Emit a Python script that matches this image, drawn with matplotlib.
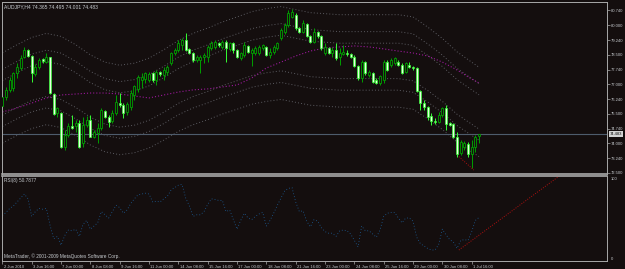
import numpy as np
import matplotlib
matplotlib.use('Agg')
from matplotlib import pyplot as plt
import matplotlib.transforms as mtransforms

# AUDJPY H4 candles, one per bar (bar 0 = 2 Jun 2010 08:00)
opens = [75.89, 76.35, 76.71, 76.81, 77.57, 77.82, 78.38, 78.73, 78.43, 77.52,
         77.87, 78.28, 78.12, 78.38, 76.50, 75.54, 75.54, 73.81, 74.42, 74.88,
         74.88, 75.03, 74.01, 74.93, 75.18, 74.32, 74.52, 74.77, 75.64, 75.33,
         75.13, 75.54, 76.04, 75.94, 75.59, 75.84, 76.45, 76.76, 77.21, 77.26,
         77.21, 77.57, 77.21, 77.62, 77.47, 77.62, 78.07, 78.58, 78.73, 78.99,
         79.24, 78.76, 78.58, 78.23, 78.23, 78.38, 78.38, 78.84, 78.89, 79.09,
         78.89, 79.14, 78.79, 79.09, 78.73, 78.33, 78.48, 78.94, 78.58, 78.58,
         78.58, 78.84, 78.89, 78.48, 78.63, 78.84, 79.34, 79.65, 80.00, 80.41,
         80.51, 79.85, 79.65, 80.06, 79.45, 79.14, 79.65, 79.45, 78.58, 78.84,
         78.58, 78.73, 78.38, 78.53, 78.58, 78.53, 78.38, 77.92, 77.31, 78.12,
         77.47, 77.57, 77.21, 77.06, 77.21, 78.12, 77.97, 78.07, 78.12, 77.97,
         77.62, 77.97, 77.87, 77.82, 76.65, 76.04, 75.84, 75.39, 75.13, 75.08,
         75.44, 75.79, 75.03, 74.98, 74.32, 73.51, 73.81, 73.96, 73.46, 73.81,
         74.365]
highs = [76.71, 76.86, 77.36, 77.62, 78.07, 78.48, 78.89, 78.76, 78.48, 78.02,
         78.33, 78.33, 78.58, 78.40, 76.55, 75.84, 75.59, 74.67, 75.03, 75.44,
         75.18, 75.18, 75.33, 75.39, 75.44, 74.67, 75.03, 75.79, 75.69, 75.44,
         75.69, 76.45, 76.55, 76.04, 76.10, 76.71, 76.96, 77.47, 77.57, 77.62,
         77.62, 77.62, 77.72, 77.67, 77.87, 77.97, 78.63, 78.84, 79.24, 79.34,
         79.60, 78.84, 78.63, 78.48, 78.48, 78.58, 78.99, 79.19, 79.24, 79.14,
         79.24, 79.24, 79.14, 79.14, 78.79, 78.63, 79.14, 78.99, 78.84, 78.94,
         78.99, 79.04, 78.94, 78.84, 78.99, 79.14, 79.85, 80.11, 80.77, 80.82,
         80.61, 79.90, 80.26, 80.11, 79.50, 79.85, 79.70, 79.50, 79.09, 78.89,
         78.89, 79.09, 78.84, 78.99, 78.73, 78.58, 78.48, 77.97, 78.23, 78.18,
         77.72, 77.62, 77.31, 77.47, 78.23, 78.23, 78.33, 78.38, 78.23, 78.07,
         78.12, 78.12, 77.92, 77.87, 76.71, 76.20, 75.89, 75.54, 75.28, 75.59,
         75.84, 75.94, 75.08, 75.03, 74.57, 74.17, 74.12, 74.06, 74.17, 74.42,
         74.495]
lows = [75.69, 76.20, 76.60, 76.65, 77.31, 77.72, 78.33, 78.38, 77.11, 77.42,
        77.77, 78.07, 78.07, 76.50, 75.44, 75.33, 73.76, 73.66, 74.32, 74.72,
        74.57, 73.76, 73.81, 74.83, 74.30, 74.27, 74.01, 74.67, 75.28, 74.83,
        75.03, 75.44, 75.84, 75.28, 75.44, 75.69, 76.20, 76.60, 76.81, 77.06,
        77.11, 77.11, 76.96, 77.42, 77.21, 77.47, 77.97, 78.48, 78.63, 78.73,
        78.70, 78.53, 78.12, 78.12, 77.57, 78.07, 78.12, 78.73, 78.79, 78.89,
        78.79, 78.12, 78.68, 78.58, 78.33, 78.23, 78.38, 78.58, 77.92, 78.48,
        78.48, 78.73, 78.43, 78.33, 78.53, 78.73, 79.24, 79.55, 79.90, 80.36,
        79.75, 79.60, 79.60, 79.40, 79.09, 79.09, 79.34, 78.73, 78.48, 78.53,
        78.38, 78.23, 77.97, 78.48, 78.43, 78.33, 77.87, 77.21, 77.11, 77.47,
        77.36, 77.06, 77.01, 76.96, 77.06, 77.67, 77.87, 77.97, 77.92, 77.52,
        77.57, 77.82, 77.72, 76.60, 75.69, 75.69, 75.18, 74.93, 74.98, 75.03,
        75.33, 74.67, 74.88, 74.27, 73.30, 73.41, 73.66, 73.30, 72.75, 73.56,
        74.001]
closes = [76.35, 76.71, 77.21, 77.57, 77.87, 78.33, 78.73, 78.43, 77.57, 77.87,
          78.23, 78.18, 78.38, 76.55, 75.49, 75.79, 73.81, 74.42, 74.88, 74.77,
          75.03, 73.81, 74.93, 75.18, 74.32, 74.57, 74.77, 75.69, 75.33, 75.08,
          75.54, 76.10, 75.94, 75.54, 75.99, 76.55, 76.91, 77.36, 77.36, 77.57,
          77.52, 77.21, 77.62, 77.52, 77.72, 77.87, 78.58, 78.73, 79.09, 79.24,
          78.73, 78.58, 78.23, 78.38, 78.38, 78.48, 78.89, 79.09, 79.14, 78.99,
          79.14, 78.84, 79.09, 78.73, 78.38, 78.58, 78.99, 78.63, 78.73, 78.84,
          78.89, 78.99, 78.48, 78.63, 78.89, 79.09, 79.75, 80.00, 80.61, 80.66,
          79.85, 79.65, 80.11, 79.45, 79.14, 79.65, 79.45, 78.84, 78.89, 78.58,
          78.73, 78.33, 78.58, 78.63, 78.53, 78.38, 77.92, 77.31, 78.12, 77.57,
          77.62, 77.11, 77.06, 77.42, 78.12, 77.72, 78.23, 78.33, 77.97, 77.57,
          78.07, 77.87, 77.82, 76.65, 76.04, 75.84, 75.33, 75.13, 75.08, 75.44,
          75.79, 74.98, 74.93, 74.32, 73.46, 74.06, 74.01, 73.46, 73.81, 74.32,
          74.483]

rsi = [53, 57, 62, 65, 70, 75, 80, 74, 52, 58,
       62, 61, 62, 41, 24, 27, 16, 28, 35, 34,
       36, 27, 42, 47, 36, 40, 44, 58, 54, 50,
       58, 66, 63, 56, 60, 68, 74, 79, 80, 81,
       80, 70, 71, 70, 74, 77, 85, 88, 91, 92,
       75, 65, 52, 54, 54, 58, 67, 74, 73, 72,
       72, 58, 60, 48, 36, 47, 56, 50, 48, 52,
       55, 57, 40, 47, 56, 66, 75, 84, 87, 88,
       70, 58, 59, 46, 39, 48, 46, 38, 33, 31,
       31, 27, 34, 35, 34, 30, 22, 14, 40, 34,
       34, 30, 26, 35, 52, 56, 57, 57, 50, 44,
       50, 50, 46, 26, 18, 15, 12, 10, 10, 17,
       36, 29, 23, 20, 12, 22, 23, 22, 33, 47,
       50.79]

# envelope centre and magenta MA, read every 4 bars
band_bars = [0, 4, 8, 12, 16, 20, 24, 28, 32, 36, 40, 44, 48, 52, 56, 60, 64,
             68, 72, 76, 80, 84, 88, 92, 96, 100, 104, 108, 112, 116, 120, 124,
             128, 130]
band_mid = [76.30, 76.70, 77.06, 77.26, 77.11, 76.70, 76.20, 75.84, 75.69, 75.79,
            76.04, 76.45, 76.91, 77.26, 77.52, 77.82, 78.07, 78.33, 78.48, 78.58,
            78.43, 78.28, 78.23, 78.18, 78.18, 78.18, 78.18, 78.18, 78.07, 77.57,
            77.01, 76.35, 75.84, 75.59]
ma_vals = [75.59, 75.79, 76.04, 76.30, 76.45, 76.50, 76.55, 76.55, 76.50, 76.40,
           76.30, 76.45, 76.60, 76.71, 76.76, 76.86, 76.96, 77.31, 77.82, 78.12,
           78.43, 78.68, 78.84, 78.89, 78.94, 78.89, 78.79, 78.68, 78.58, 78.43,
           78.12, 77.72, 77.26, 77.06]
env_dev = [1.15, 1.9, 3.0]  # percent

price_ticks = [80.740, 80.000, 79.240, 78.500, 77.740, 77.000, 76.240, 75.500,
               74.740, 74.000, 73.240, 72.500]
date_bars = [0, 8, 16, 24, 32, 40, 48, 56, 64, 72, 80, 88, 96, 104, 112, 120, 128]
date_labels = ['2 Jun 2010', '3 Jun 16:00', '7 Jun 00:00', '8 Jun 08:00',
               '9 Jun 16:00', '11 Jun 00:00', '14 Jun 08:00', '15 Jun 16:00',
               '17 Jun 00:00', '18 Jun 08:00', '21 Jun 16:00', '23 Jun 00:00',
               '24 Jun 08:00', '25 Jun 16:00', '29 Jun 00:00', '30 Jun 08:00',
               '1 Jul 16:00']
bid = 74.483
trend_price = ([124.5, 128.6], [73.32, 72.64])
trend_rsi = ([124.5, 155.0], [10, 113])

BG = '#140e0e'
FG = '#c8ccd0'
FRAME = '#a8a8a8'
BULL = '#00a000'
BEAR = '#33ff33'
plt.rcParams['font.family'] = ['Liberation Sans', 'DejaVu Sans']
FS = 3.0    # axis labels
FS_TXT = 3.4  # corner texts

W, H = 625, 269
fig = plt.figure(figsize=(W / 100, H / 100), dpi=100, facecolor=BG)


def box(x0, y0, x1, y1):
    return [x0 / W, 1 - y1 / H, (x1 - x0) / W, (y1 - y0) / H]


ax = fig.add_axes(box(2, 2, 607, 174), facecolor=BG)
axr = fig.add_axes(box(2, 176, 607, 260.5), facecolor=BG, sharex=ax)

x = np.arange(len(closes))
o, h, l, c = map(np.array, (opens, highs, lows, closes))
up = c >= o
dn = ~up

# envelopes and MA
mid = np.array(band_mid)
for d in env_dev:
    for s in (1, -1):
        ax.plot(band_bars, mid * (1 + s * d / 100), color='#5c5c62', lw=0.7,
                ls=(0, (1, 2.2)), zorder=1)
ax.plot(band_bars, ma_vals, color='#9a189a', lw=0.8, ls=(0, (1, 1.8)), zorder=1)

ax.axhline(bid, color='#4e5c6c', lw=0.8, zorder=1)

# candles
ax.vlines(x[up], l[up], h[up], color=BULL, lw=0.7, zorder=2)
ax.vlines(x[dn], l[dn], h[dn], color=BEAR, lw=0.7, zorder=2)
lo = np.minimum(o, c)
hb = np.maximum(np.abs(c - o), 0.02)
ax.bar(x[up], hb[up], bottom=lo[up], width=0.6, color=BG, edgecolor=BULL,
       lw=0.6, zorder=3)
ax.bar(x[dn], hb[dn], bottom=lo[dn], width=0.6, color='#e6ffe0', edgecolor=BEAR,
       lw=0.5, zorder=3)

ax.plot(*trend_price, color='#b01010', lw=0.7, ls=(0, (1, 1.5)), zorder=4)

ax.set_xlim(-0.1, 164.9)
ax.set_ylim(72.44, 81.17)
ax.yaxis.tick_right()
ax.set_yticks(price_ticks)
ax.set_yticklabels(['%.3f' % p for p in price_ticks])
ax.tick_params(axis='y', colors=FRAME, labelcolor=FG, labelsize=FS, length=2,
               width=0.5, pad=1)
ax.tick_params(axis='x', bottom=False, labelbottom=False)
ax.text(1.004, bid, '%.3f' % bid, transform=mtransforms.blended_transform_factory(
    ax.transAxes, ax.transData), fontsize=FS, color='#101010', va='center',
    ha='left', bbox=dict(facecolor='#d4d4d4', edgecolor='none', pad=0.6), zorder=6,
    clip_on=False)
ax.text(0.004, 0.985, 'AUDJPY,H4 74.365 74.495 74.001 74.483', transform=ax.transAxes,
        fontsize=3.6, color=FG, va='top', ha='left')

# RSI panel
axr.plot(x, rsi, color='#1d5f9a', lw=0.6, ls=(0, (1, 2.6)))
axr.plot(*trend_rsi, color='#b01010', lw=0.7, ls=(0, (1, 1.5)))
axr.set_ylim(-3.1, 102.5)
axr.yaxis.tick_right()
axr.set_yticks([100, 0])
axr.set_yticklabels(['100', '0'])
axr.tick_params(axis='y', colors=FRAME, labelcolor=FG, labelsize=FS, length=0, pad=3)
axr.set_xticks(date_bars)
axr.set_xticklabels(date_labels)
axr.tick_params(axis='x', colors=FRAME, labelcolor=FG, labelsize=FS, length=2.5,
                width=0.5, pad=1)
off = mtransforms.ScaledTranslation(1.2 / 100, 0, fig.dpi_scale_trans)
for lbl in axr.get_xticklabels():
    lbl.set_horizontalalignment('left')
    lbl.set_transform(lbl.get_transform() + off)
axr.text(0.004, 0.975, 'RSI(8) 50.7877', transform=axr.transAxes, fontsize=FS_TXT,
         color=FG, va='top', ha='left')
axr.text(0.003, 0.02, 'MetaTrader, \u00a9 2001-2009 MetaQuotes Software Corp.',
         transform=axr.transAxes, fontsize=FS_TXT, color=FG, va='bottom', ha='left')

for a in (ax, axr):
    for sp in a.spines.values():
        sp.set_color(FRAME)
        sp.set_linewidth(0.7)
ax.spines['bottom'].set_linewidth(1.2)
axr.spines['top'].set_linewidth(1.2)

fig.savefig('out.png', dpi=100, facecolor=BG)
